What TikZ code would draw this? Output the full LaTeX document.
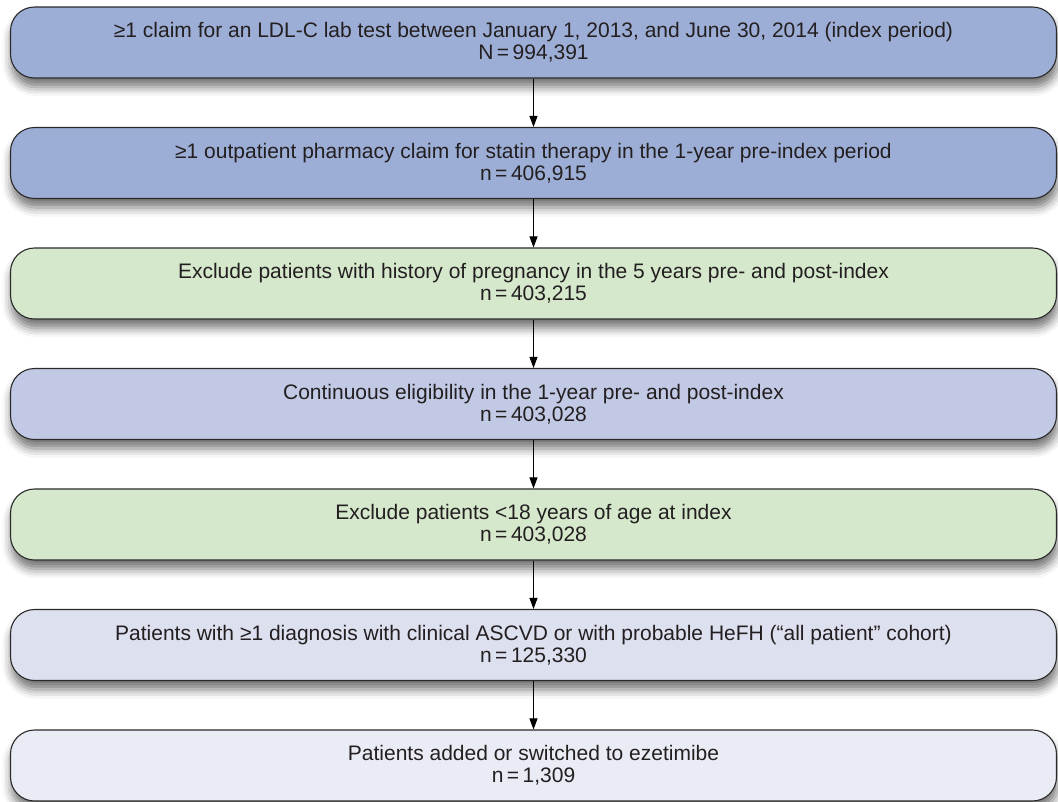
\documentclass[tikz,border=0pt]{standalone}
\usepackage{fontspec}
\setmainfont{Liberation Sans}
\usetikzlibrary{shadows.blur,arrows.meta}
\definecolor{bblue}{HTML}{9DAED6}
\definecolor{bgreen}{HTML}{D5E8CC}
\definecolor{blight}{HTML}{C2C9E5}
\definecolor{blighter}{HTML}{DDE0EF}
\definecolor{blightest}{HTML}{E9ECF5}
\definecolor{txt}{HTML}{231F20}
\definecolor{edge}{HTML}{2A2A2A}
\tikzset{
  flowbox/.style={draw=edge, line width=1.1pt, rounded corners=24pt,
    minimum width=1046pt, minimum height=71pt, inner sep=0pt,
    align=center, text=txt,
    font=\fontsize{21pt}{22pt}\selectfont,
    blur shadow={shadow xshift=1pt, shadow yshift=-9pt, shadow blur radius=9pt, shadow opacity=55}},
  flowarrow/.style={draw=black, line width=0.9pt, -{Triangle[length=11pt,width=8pt]}}
}
\begin{document}
\begin{tikzpicture}[x=1pt,y=-1pt]
\useasboundingbox (0,0) rectangle (1058,801);
\node[flowbox, fill=bblue] (b1) at (533.5,42.5) {≥1 claim for an LDL-C lab test between January 1, 2013, and June 30, 2014 (index period)\\N\,=\,994,391};
\node[flowbox, fill=bblue] (b2) at (533.5,163) {≥1 outpatient pharmacy claim for statin therapy in the 1-year pre-index period\\n\,=\,406,915};
\node[flowbox, fill=bgreen] (b3) at (533.5,283.5) {Exclude patients with history of pregnancy in the 5 years pre- and post-index\\n\,=\,403,215};
\node[flowbox, fill=blight] (b4) at (533.5,404) {Continuous eligibility in the 1-year pre- and post-index\\n\,=\,403,028};
\node[flowbox, fill=bgreen] (b5) at (533.5,524.5) {Exclude patients <18 years of age at index\\n\,=\,403,028};
\node[flowbox, fill=blighter] (b6) at (533.5,645) {Patients with ≥1 diagnosis with clinical ASCVD or with probable HeFH (“all patient” cohort)\\n\,=\,125,330};
\node[flowbox, fill=blightest] (b7) at (533.5,765.5) {Patients added or switched to ezetimibe\\n\,=\,1,309};
\foreach \a/\b in {b1/b2,b2/b3,b3/b4,b4/b5,b5/b6,b6/b7}
  \draw[flowarrow] (\a.south) -- (\b.north);
\end{tikzpicture}
\end{document}
